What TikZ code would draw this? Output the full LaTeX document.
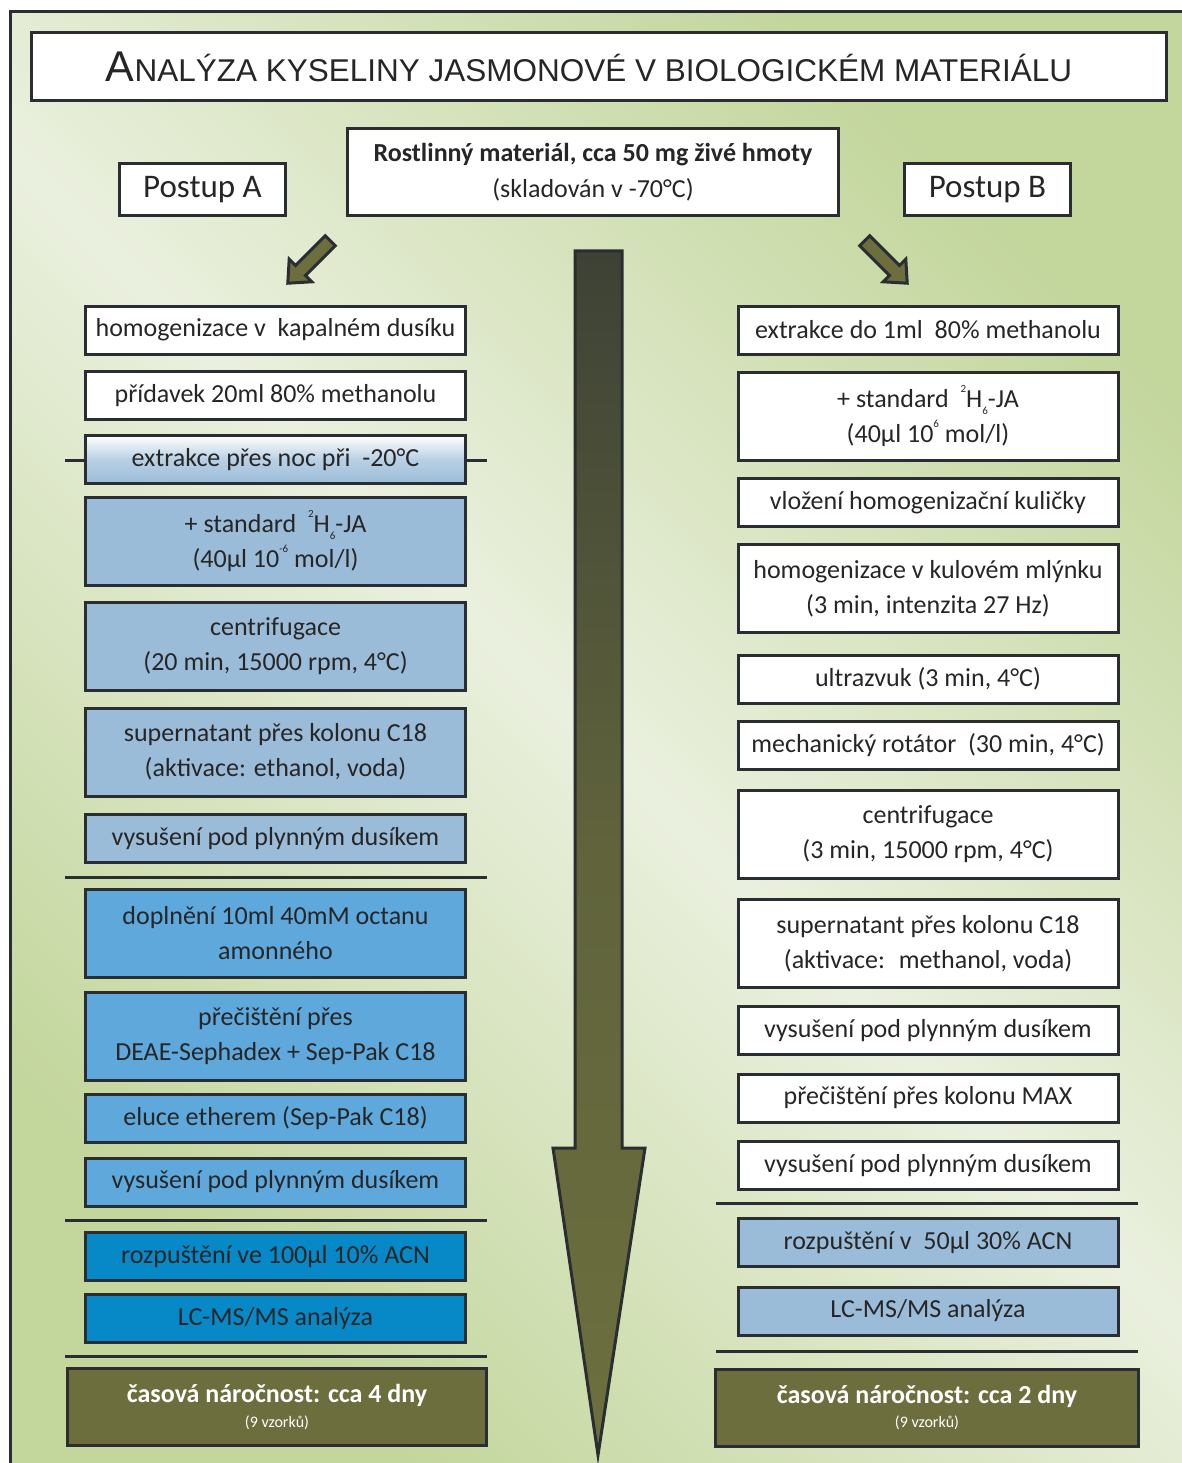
\documentclass[tikz,border=0pt]{standalone}
\usepackage{fontspec}
\setmainfont{Carlito}
\newfontfamily\arialfont{Liberation Sans}
\definecolor{lineclr}{HTML}{2A2D31}
\definecolor{txtclr}{HTML}{262626}
\definecolor{bglight}{HTML}{EAF0DE}
\definecolor{bggreen}{HTML}{C3D69C}
\definecolor{bluelight}{HTML}{9BBCD8}
\definecolor{bluemid}{HTML}{5EA8DC}
\definecolor{bluedark}{HTML}{0788C7}
\definecolor{olive}{HTML}{6C6F3D}
\definecolor{arrowtop}{HTML}{3E4236}
\tikzstyle{stepbox}=[draw=lineclr, line width=3pt, fill=white, text=txtclr,
    minimum width=380pt, minimum height=48pt, inner sep=0pt, align=center,
    font=\fontsize{26}{35}\selectfont]
\tikzstyle{tallbox}=[stepbox, minimum height=88pt]
\tikzstyle{sumbox}=[draw=lineclr, line width=3pt, fill=olive, text=white,
    minimum height=77pt, inner sep=0pt, align=center]
\tikzstyle{sepline}=[draw=lineclr, line width=3pt]
\newcommand{\stepnode}{\node[stepbox]}
\newcommand{\tallnode}{\node[tallbox]}
\newcommand{\supx}[1]{\raisebox{0.55em}{\fontsize{11}{11}\selectfont #1}}
\newcommand{\subx}[1]{\raisebox{-0.3em}{\fontsize{11}{11}\selectfont #1}}
\newcommand{\olivearrow}[3]{%
  \draw[lineclr, line width=3pt, fill=olive, shift={(#1,#2)}, rotate=#3]
    (-30,-7) -- (12,-7) -- (12,-16) -- (30,0) -- (12,16) -- (12,7) -- (-30,7) -- cycle;}
\begin{document}
\begin{tikzpicture}[x=1pt, y=-1pt]
\useasboundingbox (0,0) rectangle (1182,1463);
\shade[top color=bggreen, bottom color=bggreen, middle color=bglight, shading angle=-45]
    (10,12) rectangle (1182,1463);
\draw[lineclr, line width=3pt] (10,1463) -- (10,12) -- (1182,12);

\node[draw=lineclr, line width=3pt, fill=white, minimum width=1135pt, minimum height=68pt,
    inner sep=0pt, text=txtclr] (title) at (599,66.5)
    {\arialfont\fontsize{43}{43}\selectfont A\fontsize{31.5}{31.5}\selectfont NALÝZA KYSELINY JASMONOVÉ V BIOLOGICKÉM MATERIÁLU\kern20pt};
\node[draw=lineclr, line width=3pt, fill=white, minimum width=491pt, minimum height=87pt,
    inner sep=0pt, text=txtclr, align=center, font=\fontsize{26}{36}\selectfont] (plant) at (593,172)
    {\textbf{Rostlinný materiál, cca 50 mg živé hmoty}\\(skladován v -70°C)};
\node[draw=lineclr, line width=3pt, fill=white, minimum width=166pt, minimum height=52pt,
    inner sep=0pt, text=txtclr, font=\fontsize{33}{33}\selectfont] (postA) at (202.5,189.5) {Postup A};
\node[draw=lineclr, line width=3pt, fill=white, minimum width=166pt, minimum height=52pt,
    inner sep=0pt, text=txtclr, font=\fontsize{33}{33}\selectfont] (postB) at (987.5,189.5) {Postup B};

\olivearrow{309}{262}{225}
\olivearrow{886}{262}{-45}

\shade[top color=arrowtop, bottom color=olive, middle color=olive!75!arrowtop, draw=lineclr, line width=3pt]
    (575,251) -- (622,251) -- (622,1148) -- (645,1148) -- (598,1455) -- (553,1148) -- (575,1148) -- cycle;

% Postup A
\draw[sepline] (65,460) -- (487,460);
\stepnode (a1) at (275.5,330) {homogenizace v \ kapalném dusíku};
\stepnode (a2) at (275.5,395.5) {přídavek 20ml 80\% methanolu};
\stepnode[top color=white, bottom color=bluelight, middle color=bluelight!70!white] (a3) at (275.5,459.5) {extrakce přes noc při \ -20°C};
\tallnode[fill=bluelight] (a4) at (275.5,541) {+ standard \ \supx{2}H\subx{6}-JA\\(40µl 10\supx{-6} mol/l)};
\tallnode[fill=bluelight] (a5) at (275.5,646) {centrifugace\\(20 min, 15000 rpm, 4°C)};
\tallnode[fill=bluelight] (a6) at (275.5,752) {supernatant přes kolonu C18\\(aktivace: ethanol, voda)};
\stepnode[fill=bluelight] (a7) at (275.5,838.5) {vysušení pod plynným dusíkem};
\draw[sepline] (65,877) -- (487,877);
\tallnode[fill=bluemid] (a8) at (275.5,933.5) {doplnění 10ml 40mM octanu\\amonného};
\tallnode[fill=bluemid] (a9) at (275.5,1036) {přečištění přes\\DEAE-Sephadex + Sep-Pak C18};
\stepnode[fill=bluemid] (a10) at (275.5,1118) {eluce etherem (Sep-Pak C18)};
\stepnode[fill=bluemid] (a11) at (275.5,1182) {vysušení pod plynným dusíkem};
\draw[sepline] (65,1220) -- (487,1220);
\stepnode[fill=bluedark] (a12) at (275.5,1256.5) {rozpuštění ve 100µl 10\% ACN};
\stepnode[fill=bluedark] (a13) at (275.5,1318.5) {LC-MS/MS analýza};
\draw[sepline] (65,1356) -- (487,1356);
\node[sumbox, minimum width=419pt] (timeA) at (277,1407)
    {\fontsize{26}{26}\selectfont\textbf{časová náročnost: cca 4 dny}\\[8pt]\fontsize{16}{16}\selectfont (9 vzorků)};

% Postup B
\stepnode (b1) at (928,330) {extrakce do 1ml \ 80\% methanolu};
\tallnode (b2) at (928,416) {+ standard \ \supx{2}H\subx{6}-JA\\(40µl 10\supx{6} mol/l)};
\stepnode (b3) at (928,502.5) {vložení homogenizační kuličky};
\tallnode (b4) at (928,588.5) {homogenizace v kulovém mlýnku\\(3 min, intenzita 27 Hz)};
\stepnode (b5) at (928,679) {ultrazvuk (3 min, 4°C)};
\stepnode (b6) at (928,745) {mechanický rotátor \ (30 min, 4°C)};
\tallnode (b7) at (928,834) {centrifugace\\(3 min, 15000 rpm, 4°C)};
\tallnode (b8) at (928,943.5) {supernatant přes kolonu C18\\(aktivace: \ methanol, voda)};
\stepnode (b9) at (928,1030.5) {vysušení pod plynným dusíkem};
\stepnode (b10) at (928,1098) {přečištění přes kolonu MAX};
\stepnode (b11) at (928,1165.5) {vysušení pod plynným dusíkem};
\draw[sepline] (716,1203) -- (1138,1203);
\stepnode[fill=bluelight] (b12) at (928,1242.5) {rozpuštění v \ 50µl 30\% ACN};
\stepnode[fill=bluelight] (b13) at (928,1311) {LC-MS/MS analýza};
\draw[sepline] (716,1351) -- (1138,1351);
\node[sumbox, minimum width=423pt] (timeB) at (927,1407.5)
    {\fontsize{26}{26}\selectfont\textbf{časová náročnost: cca 2 dny}\\[8pt]\fontsize{16}{16}\selectfont (9 vzorků)};
\end{tikzpicture}
\end{document}
